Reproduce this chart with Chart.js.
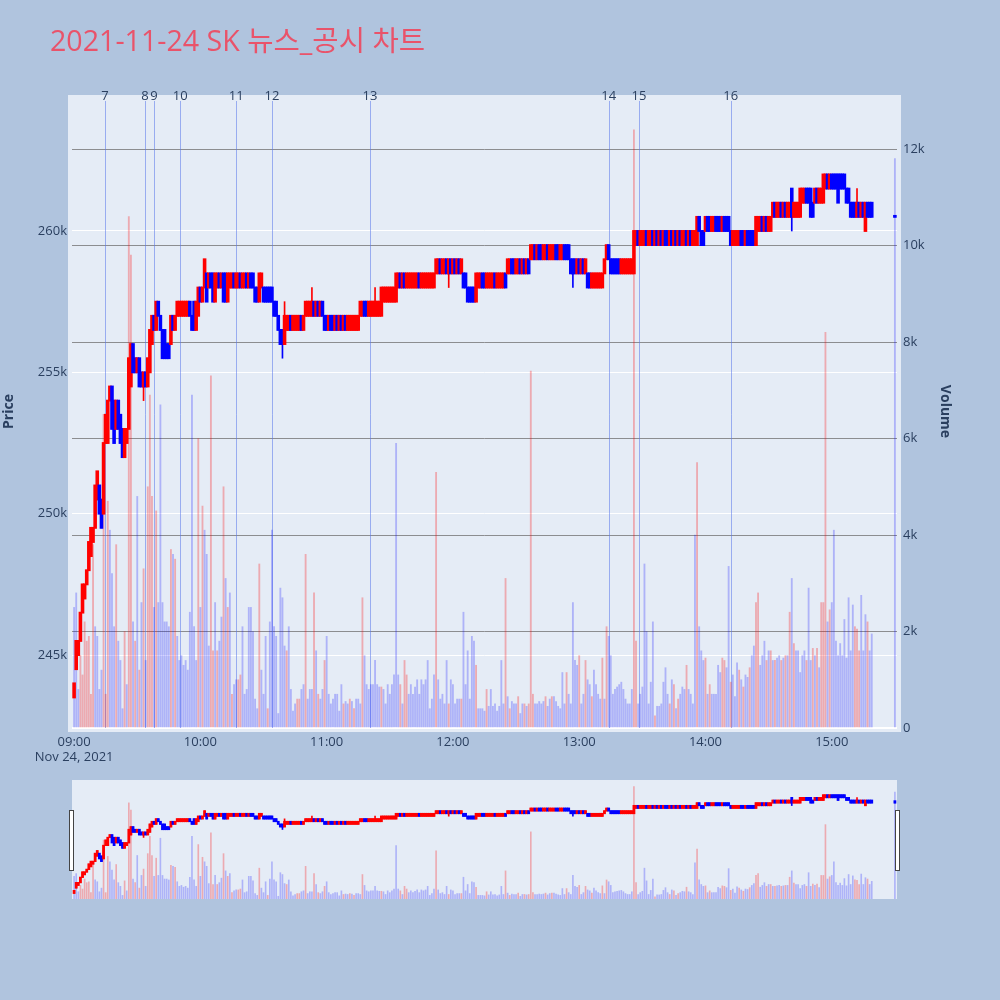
<!DOCTYPE html>
<html>
<head>
<meta charset="utf-8">
<script src="https://cdn.jsdelivr.net/npm/chart.js@4.4.0/dist/chart.umd.min.js"></script>
<style>
  html, body { margin: 0; padding: 0; background: #b0c4de; }
  #wrap { position: relative; width: 1000px; height: 1000px; overflow: hidden; }
  #title { position: absolute; left: 50px; top: 24px; font-size: 28.6px; line-height: 32px;
           font-family: "Open Sans", "Noto Sans CJK KR", sans-serif; color: #e9536a; white-space: nowrap; }
  #main { position: absolute; left: 0; top: 0; }
  #slider { position: absolute; left: 0; top: 780px; }
</style>
</head>
<body>
<div id="wrap">
  <canvas id="main" width="1000" height="770"></canvas>
  <canvas id="slider" width="1000" height="119"></canvas>
  <div id="title">2021-11-24 SK 뉴스_공시 차트</div>
</div>
<script>
// 분봉 데이터 (가격: 천원, 거래량: 천주), 각 배열 = 한 시간
const opens09 = [243.5,244.5,245,245.5,246.5,247,247.5,248,248.5,249, 249.5,250.5,251,250.5,250,252.5,252.5,254,254.5,254,
  253,254,253.5,253,252,252.5,253,254.5,256,255.5, 255,255.5,255,254.5,255,254.5,255,256,257,256.5,
  257.5,257,256.5,256.5,256,256,256,257,256.5,257, 257,257,257,257,257,257.5,257,257.5,256.5,257];
const closes09 = [244,245.5,245.5,246.5,247.5,247.5,248,249,249.5,249.5, 251,251.5,250,249.5,252.5,253.5,254,254.5,253,252.5,
  254,253,252.5,252,253,253,255.5,256,255,255, 255.5,254.5,254.5,255,254.5,255.5,256.5,257,256.5,257.5,
  257,256.5,255.5,255.5,255.5,255.5,257,256.5,257,257.5, 257.5,257.5,257.5,257.5,257.5,257,256.5,256.5,257.5,258];

const opens10 = [258,257.5,258,258.5,258,258.5,258.5,257.5,258,258.5, 258,258.5,258.5,257.5,258,258,258.5,258,258,258.5,
  258,258,258.5,258,258.5,258.5,258,258,257.5,258, 258,258,258,258,258,257.5,257.5,257,256.5,256.5,
  256,256.5,256.5,257,256.5,256.5,256.5,256.5,257,256.5, 257,257,257,257,257.5,257,257.5,257,257.5,257];
const closes10 = [257.5,258,259,257.5,258.5,258,257.5,258.5,258.5,258, 258.5,257.5,257.5,258.5,258.5,258.5,258,258.5,258.5,258,
  258.5,258.5,258,258.5,258,258,257.5,257.5,258.5,258.5, 257.5,257.5,257.5,257.5,257.5,257,257,256.5,256,256,
  257,257,257,256.5,257,257,257,257,256.5,257, 257.5,257.5,257.5,257.5,257,257.5,257,257.5,257,256.5];

const opens11 = [257,256.5,257,257,256.5,257,256.5,257,256.5,257, 256.5,256.5,256.5,256.5,256.5,256.5,257,257,257.5,257.5,
  257,257,257,257,257,257,257,257.5,257.5,257.5, 257.5,257.5,257.5,257.5,258,258.5,258,258.5,258,258,
  258,258,258,258,258.5,258,258,258,258,258, 258,258,258.5,258.5,259,258.5,258.5,259,258.5,259];
const closes11 = [256.5,257,256.5,256.5,257,256.5,257,256.5,257,256.5, 257,257,257,257,257,257,257.5,257.5,257,257,
  257.5,257.5,257.5,257.5,257.5,257.5,258,258,258,258, 258,258,258,258.5,258.5,258,258.5,258,258.5,258.5,
  258.5,258.5,258.5,258.5,258,258.5,258.5,258.5,258.5,258.5, 258.5,258.5,259,259,258.5,259,259,258.5,259,258.5];

const opens12 = [258.5,259,258.5,259,258.5,258.5,258.5,258,258,258, 258,257.5,258,258,258.5,258.5,258,258,258,258,
  258.5,258,258,258,258,258.5,258.5,258.5,259,259, 258.5,258.5,259,258.5,259,258.5,259,259,259,259.5,
  259,259.5,259.5,259,259,259.5,259,259,259,259.5, 259.5,259,259,259.5,259.5,259.5,259,259,259,258.5];
const closes12 = [259,258.5,259,258.5,259,258,258,257.5,257.5,257.5, 257.5,258.5,258.5,258.5,258,258,258.5,258.5,258.5,258.5,
  258,258.5,258.5,258.5,258.5,258,259,259,258.5,258.5, 259,259,258.5,259,258.5,259,258.5,259.5,259.5,259,
  259.5,259,259,259.5,259.5,259,259.5,259.5,259.5,259, 259,259.5,259.5,259,259,259,258.5,258.5,258.5,259];

const opens13 = [259,258.5,259,258.5,258.5,258.5,258,258,258,258, 258,258,258.5,259,259.5,259,259,259,259,259,
  258.5,258.5,258.5,258.5,258.5,258.5,258.5,259.5,260,259.5, 259.5,259.5,260,259.5,259.5,260,259.5,260,259.5,260,
  259.5,260,260,259.5,260,259.5,260,259.5,260,259.5, 259.5,260,259.5,260,259.5,259.5,259.5,260.5,260,260];
const closes13 = [258.5,259,258.5,259,258,258,258.5,258.5,258.5,258.5, 258.5,258.5,259,259.5,259,258.5,258.5,258.5,258.5,258.5,
  259,259,259,259,259,259,260,260,259.5,260, 260,260,259.5,260,260,259.5,260,259.5,260,259.5,
  260,259.5,259.5,260,259.5,260,259.5,260,259.5,260, 260,259.5,260,259.5,260,260,260.5,260,259.5,259.5];

const opens14 = [260,260.5,260.5,260,260,260.5,260.5,260.5,260,260.5, 260.5,260.5,260,259.5,259.5,259.5,259.5,260,260,259.5,
  260,260,260,260,259.5,260,260,260.5,260,260.5, 260,260,260.5,261,260.5,260.5,261,260.5,261,260.5,
  260.5,261.5,260.5,260.5,260.5,260.5,261,261,261.5,261.5, 261.5,261,261,261.5,261,261,261,261.5,262,261.5];
const closes14 = [260.5,260,260,260.5,260.5,260,260,260,260.5,260, 260,260,259.5,260,260,260,260,259.5,259.5,260,
  259.5,259.5,259.5,259.5,260.5,260.5,260.5,260,260.5,260, 260.5,260.5,261,260.5,261,261,260.5,261,260.5,261,
  261,260.5,261,261,261,261.5,261.5,261.5,261,261, 260.5,260.5,261.5,261,261.5,261.5,262,262,261.5,262];

const opens15 = [262,262,262,262,262,262,262,261.5,261.5,261, 261,261,260.5,261,260.5,261,260,261,261,261];
const closes15 = [261.5,261.5,261.5,261,261.5,261.5,261.5,261,261,260.5, 260.5,260.5,261,260.5,261,260.5,261,260.5,260.5,260.5];

const vol09 = [2.5,2.8,0.8,1.5,1.1,2.2,1.8,1.9,0.7,3.8, 2.1,1.9,0.8,1.2,6.5,0.7,4.7,4.1,3.2,2.1,
  3.8,1.8,1.4,0.4,2.0,0.9,10.6,9.8,2.2,1.8, 4.8,1.2,2.6,3.3,1.4,5.0,6.9,4.8,2.5,4.5,
  2.6,6.7,2.6,2.2,2.2,2.1,3.7,3.6,3.5,1.9, 1.4,1.5,1.3,1.4,1.2,2.4,6.9,2.1,1.4,6.0];
const vol10 = [2.5,4.6,4.1,3.6,1.7,7.3,1.6,2.6,1.6,1.8, 2.3,5.0,3.1,2.5,2.8,0.7,0.9,1.0,1.0,1.1,
  2.1,0.7,0.8,2.5,2.5,2.0,0.6,0.4,3.4,1.2, 0.7,1.9,0.4,2.2,4.1,2.1,1.9,0.3,2.9,2.7,
  1.7,1.6,2.1,0.8,0.35,0.5,0.6,0.6,0.8,0.9, 3.6,0.6,0.8,0.8,2.8,1.6,0.7,0.6,0.8,1.4];
const vol11 = [1.9,0.7,0.5,0.6,0.7,0.7,0.35,0.9,0.5,0.55, 0.5,0.6,0.55,0.4,0.6,0.6,0.5,2.7,1.5,0.9,
  0.8,0.9,0.9,1.4,0.9,0.85,0.85,0.8,0.5,0.9, 0.7,0.9,1.1,5.9,1.1,0.9,0.5,1.4,1.1,0.7,
  0.9,0.7,0.85,1.0,0.7,1.0,0.9,1.0,1.4,0.4, 0.6,1.1,5.3,1.0,0.6,0.7,0.5,1.4,0.5,1.0];
const vol12 = [0.9,0.5,0.6,0.6,0.6,2.4,0.9,1.6,0.6,1.9, 1.8,1.3,0.4,0.4,0.4,0.35,0.8,0.45,0.8,0.45,
  0.5,0.35,0.45,1.4,0.5,3.1,0.65,0.4,0.55,0.5, 0.5,0.65,0.3,0.5,0.5,0.45,0.5,7.4,0.7,0.5,
  0.5,0.55,0.5,0.55,0.65,0.45,0.6,0.65,0.65,0.55, 0.45,0.4,1.15,0.5,1.15,0.7,0.5,2.6,1.4,1.3];
const vol13 = [1.5,0.5,0.7,1.4,1.0,0.9,0.65,1.2,0.9,0.7, 0.6,1.45,0.6,2.1,1.9,1.5,0.7,0.8,0.85,0.9,
  0.95,0.8,0.6,0.5,0.5,0.8,12.4,1.8,0.5,0.7, 0.85,3.4,2.0,0.5,0.95,2.2,0.25,0.45,0.45,0.5,
  0.95,1.25,0.7,0.5,1.0,0.9,0.4,0.6,0.7,0.85, 0.8,1.3,0.8,0.7,0.5,4.0,5.5,2.1,1.6,1.4];
const vol14 = [1.45,0.7,0.9,0.7,0.7,0.7,1.3,1.15,1.45,1.4, 1.25,3.35,0.95,1.1,0.65,1.35,1.2,1.0,0.85,1.1,
  1.05,1.25,1.5,1.7,2.6,2.8,1.3,1.5,1.8,1.4, 1.6,1.6,1.4,1.4,1.45,1.5,1.4,1.45,1.5,1.5,
  2.4,3.1,1.75,1.6,1.6,1.15,1.5,1.6,1.4,2.9, 1.4,1.65,1.5,1.65,1.25,2.6,2.6,8.2,2.2,2.45];
const vol15 = [2.6,4.1,1.8,1.5,1.75,1.5,2.25,1.45,2.7,1.6, 2.55,2.1,2.05,1.6,2.75,1.6,2.35,2.2,1.6,1.95];

// 15:30 동시호가
const auctionMinute = 390;
const auctionPrice = 260.5;
const auctionVolume = 11.8;

// 꼬리: [분, 저가, 고가]
const wickList = [[33, 254, 255], [99, 255.5, 256.5], [100, 256, 257.5], [113, 257, 258],
  [143, 257, 258], [178, 258, 259], [237, 258, 259], [341, 260, 261.5], [372, 260.5, 261.5]];

// 빨간 거래량 막대가 있는 분
const redVolMinutes = [3,4,5,6,7,8,9,14,15,16,20,24,26,27,29,31,33,35,36,37,39,46,48,59,61,
  65,66,68,71,73,75,78,79,88,92,101,106,107,110,114,116,119,
  128,131,133,137,146,155,157,158,172,178,
  184,191,196,205,207,211,214,216,217,218,224,227,234,
  240,243,246,251,253,266,267,276,283,285,287,291,296,
  300,302,308,309,312,316,318,321,324,325,329,331,333,336,338,340,342,348,351,353,355,356,357,359,
  371,372,373,377];

// 뉴스/공시 번호와 시각(분)
const newsLabels = ["7", "8", "9", "10", "11", "12", "13", "14", "15", "16"];
const newsMinutes = [14.7, 33.7, 38, 50.4, 77, 94, 140.6, 254, 268.4, 312];

const xTickMinutes = [0, 60, 120, 180, 240, 300, 360];
const priceTicks = [245, 250, 255, 260];
const volumeTicks = [0, 2, 4, 6, 8, 10, 12];
const dateLabel = "Nov 24, 2021";

const X_MIN = -1, X_MAX = 391;
const P_MIN = 242.42, P_MAX = 264.81;
const V_MIN = 0, V_MAX = 13.12;

const UP = "#ff0000";
const DOWN = "#0000ff";
const UP_VOL = "rgba(255, 0, 0, 0.28)";
const DOWN_VOL = "rgba(0, 0, 255, 0.24)";
const TEXT = "#2a3f5f";

Chart.defaults.font.family = '"Open Sans", "Noto Sans CJK KR", sans-serif';
Chart.defaults.font.size = 13;
Chart.defaults.color = TEXT;

// 캔들 목록 만들기
const hourStarts = [0, 60, 120, 180, 240, 300, 360];
const openSets = [opens09, opens10, opens11, opens12, opens13, opens14, opens15];
const closeSets = [closes09, closes10, closes11, closes12, closes13, closes14, closes15];
const volSets = [vol09, vol10, vol11, vol12, vol13, vol14, vol15];

const candles = [];
hourStarts.forEach((start, h) => {
  openSets[h].forEach((o, i) => {
    candles.push({ m: start + i, o: o, c: closeSets[h][i], v: volSets[h][i] });
  });
});
candles.push({ m: auctionMinute, o: auctionPrice, c: auctionPrice, v: auctionVolume });

const wickMap = {};
wickList.forEach(w => { wickMap[w[0]] = [w[1], w[2]]; });
candles.forEach(k => {
  const w = wickMap[k.m];
  k.lo = w ? Math.min(w[0], k.o, k.c) : Math.min(k.o, k.c);
  k.hi = w ? Math.max(w[1], k.o, k.c) : Math.max(k.o, k.c);
});

function pad2(n) { return String(n).padStart(2, "0"); }

function makeDatasets(mini) {
  return [
    {
      type: "bar", yAxisID: "yP", order: 1, grouped: false,
      data: candles.map(k => ({ x: k.m, y: [Math.min(k.o, k.c), Math.max(k.o, k.c)] })),
      backgroundColor: candles.map(k => (k.c > k.o ? UP : DOWN)),
      barThickness: mini ? 1.6 : 1.8,
      inflateAmount: mini ? 0.6 : 0.9,
      minBarLength: mini ? 2 : 1,
    },
    {
      type: "bar", yAxisID: "yP", order: 2, grouped: false,
      data: candles.map(k => ({ x: k.m, y: [k.lo, k.hi] })),
      backgroundColor: candles.map(k => (k.c > k.o ? UP : DOWN)),
      barThickness: 1,
    },
    {
      type: "bar", yAxisID: "yV", order: 3, grouped: false,
      data: candles.map(k => ({ x: k.m, y: k.v })),
      backgroundColor: candles.map(k => (redVolMinutes.includes(k.m) ? UP_VOL : DOWN_VOL)),
      barThickness: mini ? 1 : 1.2,
    },
  ];
}

// 플롯 배경
const plotBg = {
  id: "plotBg",
  beforeDraw(chart, args, opts) {
    const { ctx, chartArea: a } = chart;
    ctx.save();
    ctx.fillStyle = "#e5ecf6";
    ctx.fillRect(a.left - opts.padL, a.top, a.right - a.left + opts.padL + opts.padR, a.bottom - a.top + opts.padB);
    ctx.restore();
  },
};

// 뉴스 세로선과 번호
const newsLines = {
  id: "newsLines",
  beforeDatasetsDraw(chart) {
    const { ctx, chartArea: a, scales } = chart;
    ctx.save();
    ctx.strokeStyle = "rgba(90, 120, 235, 0.55)";
    ctx.lineWidth = 1;
    newsMinutes.forEach(m => {
      const x = Math.round(scales.x.getPixelForValue(m)) + 0.5;
      ctx.beginPath();
      ctx.moveTo(x, a.top + 6);
      ctx.lineTo(x, a.bottom);
      ctx.stroke();
    });
    ctx.restore();
  },
  afterDraw(chart) {
    const { ctx, chartArea: a, scales } = chart;
    ctx.save();
    ctx.fillStyle = TEXT;
    ctx.font = '13px "Open Sans", sans-serif';
    ctx.textAlign = "center";
    ctx.textBaseline = "middle";
    newsMinutes.forEach((m, i) => {
      ctx.fillText(newsLabels[i], scales.x.getPixelForValue(m), a.top + 1.5);
    });
    ctx.restore();
  },
};

// 레인지 슬라이더 손잡이
const sliderHandles = {
  id: "sliderHandles",
  afterDraw(chart) {
    const { ctx, chartArea: a } = chart;
    ctx.save();
    ctx.fillStyle = "#ffffff";
    ctx.strokeStyle = "#444444";
    ctx.lineWidth = 1;
    [a.left - 3, a.right - 2].forEach(x => {
      ctx.fillRect(x, 30, 4, 60);
      ctx.strokeRect(x + 0.5, 30.5, 4, 60);
    });
    ctx.restore();
  },
};

new Chart(document.getElementById("main"), {
  type: "bar",
  data: { datasets: makeDatasets(false) },
  plugins: [plotBg, newsLines],
  options: {
    responsive: false,
    animation: false,
    layout: { padding: { top: 95, right: 45.6, left: 0, bottom: 0 } },
    plugins: {
      legend: { display: false },
      tooltip: { enabled: false },
      plotBg: { padL: 4, padR: 4, padB: 4 },
    },
    scales: {
      x: {
        type: "linear", min: X_MIN, max: X_MAX, offset: false,
        grid: { display: false, drawTicks: false },
        border: { display: false },
        afterBuildTicks: s => { s.ticks = xTickMinutes.map(v => ({ value: v })); },
        afterFit: s => { s.height = 42; },
        ticks: {
          padding: 6, maxRotation: 0, autoSkip: false,
          callback: v => {
            const label = pad2(9 + Math.floor(v / 60)) + ":" + pad2(v % 60);
            return v === 0 ? [label, dateLabel] : label;
          },
        },
      },
      yP: {
        position: "left", min: P_MIN, max: P_MAX,
        grid: { color: "#ffffff", drawTicks: false },
        border: { display: false },
        afterBuildTicks: s => { s.ticks = priceTicks.map(v => ({ value: v })); },
        afterFit: s => { s.width = 72; },
        ticks: { padding: 5, callback: v => v + "k" },
        title: { display: true, text: "Price", padding: 1, font: { size: 14, weight: "bold" } },
      },
      yV: {
        position: "right", min: V_MIN, max: V_MAX,
        grid: {
          drawTicks: false,
          color: c => (c.tick && c.tick.value === 0 ? "#ffffff" : "rgba(110, 110, 110, 0.75)"),
          lineWidth: c => (c.tick && c.tick.value === 0 ? 2 : 1),
        },
        border: { display: false },
        afterBuildTicks: s => { s.ticks = volumeTicks.map(v => ({ value: v })); },
        afterFit: s => { s.width = 57.4; },
        ticks: { padding: 6, callback: v => (v === 0 ? "0" : v + "k") },
        title: { display: true, text: "Volume", padding: 1, font: { size: 14, weight: "bold" } },
      },
    },
  },
});

new Chart(document.getElementById("slider"), {
  type: "bar",
  data: { datasets: makeDatasets(true) },
  plugins: [plotBg, sliderHandles],
  options: {
    responsive: false,
    animation: false,
    layout: { padding: { top: 0, right: 103, left: 72, bottom: 0 } },
    plugins: {
      legend: { display: false },
      tooltip: { enabled: false },
      plotBg: { padL: 0, padR: 0, padB: 0 },
    },
    scales: {
      x: { type: "linear", min: X_MIN, max: X_MAX, offset: false, display: false },
      yP: { position: "left", min: P_MIN, max: P_MAX, display: false },
      yV: { position: "right", min: V_MIN, max: V_MAX, display: false },
    },
  },
});
</script>
</body>
</html>
